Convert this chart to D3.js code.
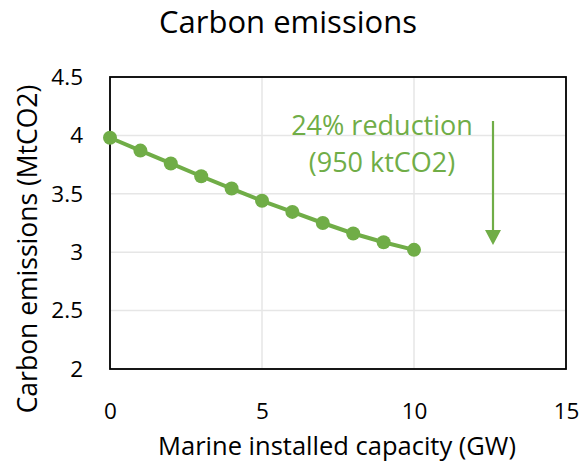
<!DOCTYPE html>
<html>
<head>
<meta charset="utf-8">
<script src="https://cdn.jsdelivr.net/npm/d3@7"></script>
<style>
  body { margin: 0; background: #fff; }
  svg { display: block; font-family: "Open Sans", "Noto Sans", sans-serif; }
</style>
</head>
<body>
<svg id="chart" width="580" height="463"></svg>
<script>
// capacity (GW) vs emissions (MtCO2)
const capacity = [0, 1, 2, 3, 4, 5, 6, 7, 8, 9, 10]
const emissions = [3.98, 3.87, 3.76, 3.65, 3.545, 3.44, 3.345, 3.25, 3.16, 3.085, 3.02]
const xTicks = [0, 5, 10, 15]
const yTicks = [2, 2.5, 3, 3.5, 4, 4.5]

const GREEN = '#70ad47'
const svg = d3.select('#chart')
const margin = { top: 77, right: 14, bottom: 94, left: 110 }
const width = 580 - margin.left - margin.right
const height = 463 - margin.top - margin.bottom

const x = d3.scaleLinear().domain([0, 15]).range([margin.left, margin.left + width])
const y = d3.scaleLinear().domain([2, 4.5]).range([margin.top + height, margin.top])

// gridlines
svg.append('g')
  .selectAll('line.hgrid')
  .data(yTicks)
  .join('line')
  .attr('x1', x(0)).attr('x2', x(15))
  .attr('y1', (d) => y(d)).attr('y2', (d) => y(d))
  .attr('stroke', '#e6e6e6').attr('stroke-width', 1.5)
svg.append('g')
  .selectAll('line.vgrid')
  .data(xTicks)
  .join('line')
  .attr('x1', (d) => x(d)).attr('x2', (d) => x(d))
  .attr('y1', y(2)).attr('y2', y(4.5))
  .attr('stroke', '#e6e6e6').attr('stroke-width', 1.5)

// axes (labels only, border drawn separately)
const xAxis = svg.append('g')
  .attr('transform', `translate(0,${y(2)})`)
  .call(d3.axisBottom(x).tickValues(xTicks).tickSize(0))
const yAxis = svg.append('g')
  .attr('transform', `translate(${x(0)},0)`)
  .call(d3.axisLeft(y).tickValues(yTicks).tickSize(0).tickPadding(27).tickFormat(d3.format('')))
;[xAxis, yAxis].forEach((a) => {
  a.select('.domain').remove()
  a.selectAll('text').attr('font-size', 22.5).attr('fill', '#000')
    .attr('font-family', '"Open Sans", sans-serif')
})
xAxis.selectAll('text').attr('dy', null).attr('y', 419 - y(2))

// plot border
svg.append('rect')
  .attr('x', x(0)).attr('y', y(4.5))
  .attr('width', x(15) - x(0)).attr('height', y(2) - y(4.5))
  .attr('fill', 'none').attr('stroke', '#000').attr('stroke-width', 1.8)

// series
const pts = capacity.map((c, i) => ({ c, e: emissions[i] }))
svg.append('path')
  .datum(pts)
  .attr('d', d3.line().x((d) => x(d.c)).y((d) => y(d.e)))
  .attr('fill', 'none').attr('stroke', GREEN).attr('stroke-width', 4)
svg.append('g')
  .selectAll('circle')
  .data(pts)
  .join('circle')
  .attr('cx', (d) => x(d.c)).attr('cy', (d) => y(d.e))
  .attr('r', 7).attr('fill', GREEN)

// annotation
const note = svg.append('text')
  .attr('text-anchor', 'middle').attr('fill', GREEN).attr('font-size', 27)
note.append('tspan').attr('x', 382).attr('y', 135).text('24% reduction')
note.append('tspan').attr('x', 382).attr('y', 172).text('(950 ktCO2)')

svg.append('line')
  .attr('x1', 493).attr('x2', 493).attr('y1', 121).attr('y2', 232)
  .attr('stroke', GREEN).attr('stroke-width', 2.2)
svg.append('path')
  .attr('d', 'M485,230 L501,230 L493,245 Z').attr('fill', GREEN)

// titles
svg.append('text')
  .attr('x', 288).attr('y', 33).attr('text-anchor', 'middle')
  .attr('font-size', 31).text('Carbon emissions')
svg.append('text')
  .attr('x', 337).attr('y', 455).attr('text-anchor', 'middle')
  .attr('font-size', 25.5).text('Marine installed capacity (GW)')
svg.append('text')
  .attr('transform', 'translate(37,249) rotate(-90)')
  .attr('text-anchor', 'middle')
  .attr('font-size', 26.5).text('Carbon emissions (MtCO2)')
</script>
</body>
</html>
